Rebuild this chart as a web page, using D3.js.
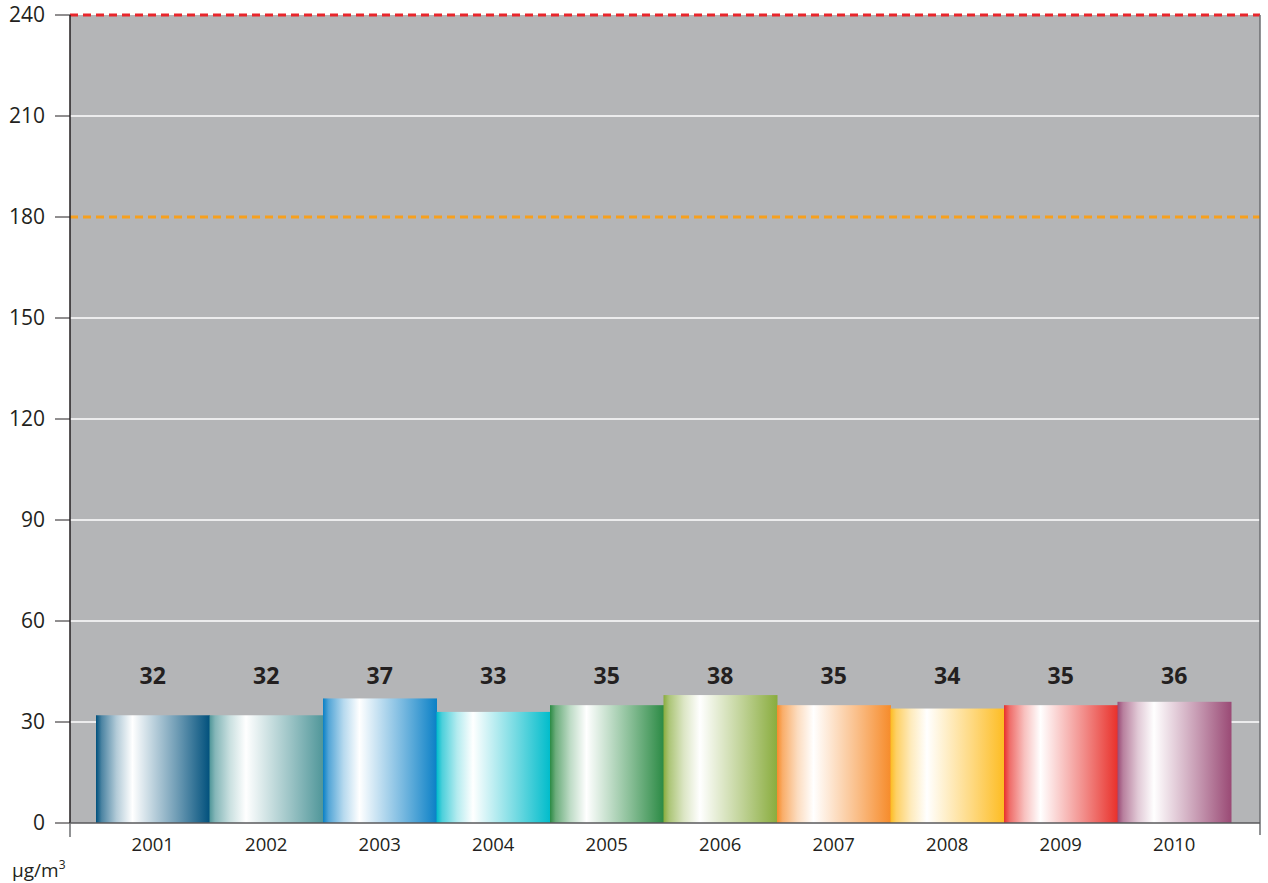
<!DOCTYPE html>
<html>
<head>
<meta charset="utf-8">
<script src="https://cdn.jsdelivr.net/npm/d3@7"></script>
<style>
  body { margin: 0; background: #fff; }
  svg { display: block; font-family: "Open Sans", "Noto Sans", sans-serif; }
</style>
</head>
<body>
<svg id="chart" width="1268" height="883"></svg>
<script>
const years = ['2001', '2002', '2003', '2004', '2005', '2006', '2007', '2008', '2009', '2010'];
const values = [32, 32, 37, 33, 35, 38, 35, 34, 35, 36];
const barColors = ['#00507c', '#4f9699', '#0a80c6', '#00bccb', '#2b8a44', '#89ac3d', '#f68b2a', '#fdbc22', '#e8302a', '#9a4a75'];
const yTicks = [0, 30, 60, 90, 120, 150, 180, 210, 240];
const limitValues = [240, 180];
const limitColors = ['#e8262c', '#f7a01d'];

const svg = d3.select('#chart');
const plot = { left: 70, right: 1260, top: 15, bottom: 823 };

const x = d3.scaleBand().domain(years).range([96, 1231]).padding(0);
const y = d3.scaleLinear().domain([0, 240]).range([plot.bottom, plot.top]);

// gray plot background
svg.append('rect')
  .attr('x', plot.left).attr('y', plot.top)
  .attr('width', plot.right - plot.left).attr('height', plot.bottom - plot.top)
  .attr('fill', '#b4b5b7');

// gradients for the bars
const defs = svg.append('defs');
barColors.forEach((c, i) => {
  const g = defs.append('linearGradient').attr('id', 'grad' + i)
    .attr('x1', '0%').attr('x2', '100%').attr('y1', '0%').attr('y2', '0%');
  g.append('stop').attr('offset', '0%').attr('stop-color', c);
  g.append('stop').attr('offset', '5%').attr('stop-color', d3.interpolateRgb(c, '#fff')(0.3));
  g.append('stop').attr('offset', '18%').attr('stop-color', d3.interpolateRgb(c, '#fff')(0.7));
  g.append('stop').attr('offset', '32%').attr('stop-color', '#fff');
  g.append('stop').attr('offset', '70%').attr('stop-color', d3.interpolateRgb(c, '#fff')(0.45));
  g.append('stop').attr('offset', '100%').attr('stop-color', c);
});

// gridlines
svg.append('g')
  .selectAll('line')
  .data(yTicks.filter(d => d > 0 && !limitValues.includes(d)))
  .join('line')
  .attr('x1', plot.left).attr('x2', plot.right)
  .attr('y1', d => y(d)).attr('y2', d => y(d))
  .attr('stroke', '#fff').attr('stroke-width', 1.3);

// limit lines
svg.append('g')
  .selectAll('line')
  .data(limitValues)
  .join('line')
  .attr('x1', plot.left).attr('x2', plot.right)
  .attr('y1', d => y(d)).attr('y2', d => y(d))
  .attr('stroke', (d, i) => limitColors[i])
  .attr('stroke-width', 3)
  .attr('stroke-dasharray', '8,5');

// bars
svg.append('g')
  .selectAll('rect')
  .data(values)
  .join('rect')
  .attr('x', (d, i) => x(years[i]))
  .attr('y', d => y(d))
  .attr('width', x.bandwidth() + 0.5)
  .attr('height', d => y(0) - y(d))
  .attr('fill', (d, i) => `url(#grad${i})`);

// value labels
svg.append('g')
  .selectAll('text')
  .data(values)
  .join('text')
  .attr('x', (d, i) => x(years[i]) + x.bandwidth() / 2)
  .attr('y', 684)
  .attr('text-anchor', 'middle')
  .attr('font-size', 23)
  .attr('font-weight', 'bold')
  .attr('fill', '#231f20')
  .text(d => d);

// y axis
const yAxis = svg.append('g');
yAxis.append('line')
  .attr('x1', plot.left).attr('x2', plot.left)
  .attr('y1', plot.top).attr('y2', plot.bottom)
  .attr('stroke', '#231f20').attr('stroke-width', 1.5);
yAxis.selectAll('.tick')
  .data(yTicks)
  .join('line')
  .attr('x1', 55).attr('x2', plot.left)
  .attr('y1', d => y(d)).attr('y2', d => y(d))
  .attr('stroke', '#231f20').attr('stroke-width', 1);
yAxis.selectAll('text')
  .data(yTicks)
  .join('text')
  .attr('x', 45)
  .attr('y', d => y(d))
  .attr('dy', '0.35em')
  .attr('text-anchor', 'end')
  .attr('font-size', 21)
  .attr('fill', '#231f20')
  .text(d => d);

// right border
svg.append('line')
  .attr('x1', plot.right).attr('x2', plot.right)
  .attr('y1', plot.top).attr('y2', plot.bottom + 12)
  .attr('stroke', '#6d6e71').attr('stroke-width', 1.5);

// x axis
const xAxis = svg.append('g');
xAxis.append('line')
  .attr('x1', plot.left).attr('x2', plot.right)
  .attr('y1', plot.bottom).attr('y2', plot.bottom)
  .attr('stroke', '#58595b').attr('stroke-width', 1.5);
xAxis.append('line')
  .attr('x1', plot.left).attr('x2', plot.left)
  .attr('y1', plot.bottom).attr('y2', plot.bottom + 14)
  .attr('stroke', '#6d6e71').attr('stroke-width', 1.5);
xAxis.selectAll('text')
  .data(years)
  .join('text')
  .attr('x', d => x(d) + x.bandwidth() / 2)
  .attr('y', 851)
  .attr('text-anchor', 'middle')
  .attr('font-size', 18.5)
  .attr('fill', '#231f20')
  .text(d => d);

// unit label
const unit = svg.append('text')
  .attr('x', 12).attr('y', 877)
  .attr('font-size', 19)
  .attr('fill', '#231f20');
unit.append('tspan').text('µg/m');
unit.append('tspan').attr('dy', -8).attr('font-size', 12).text('3');
</script>
</body>
</html>
